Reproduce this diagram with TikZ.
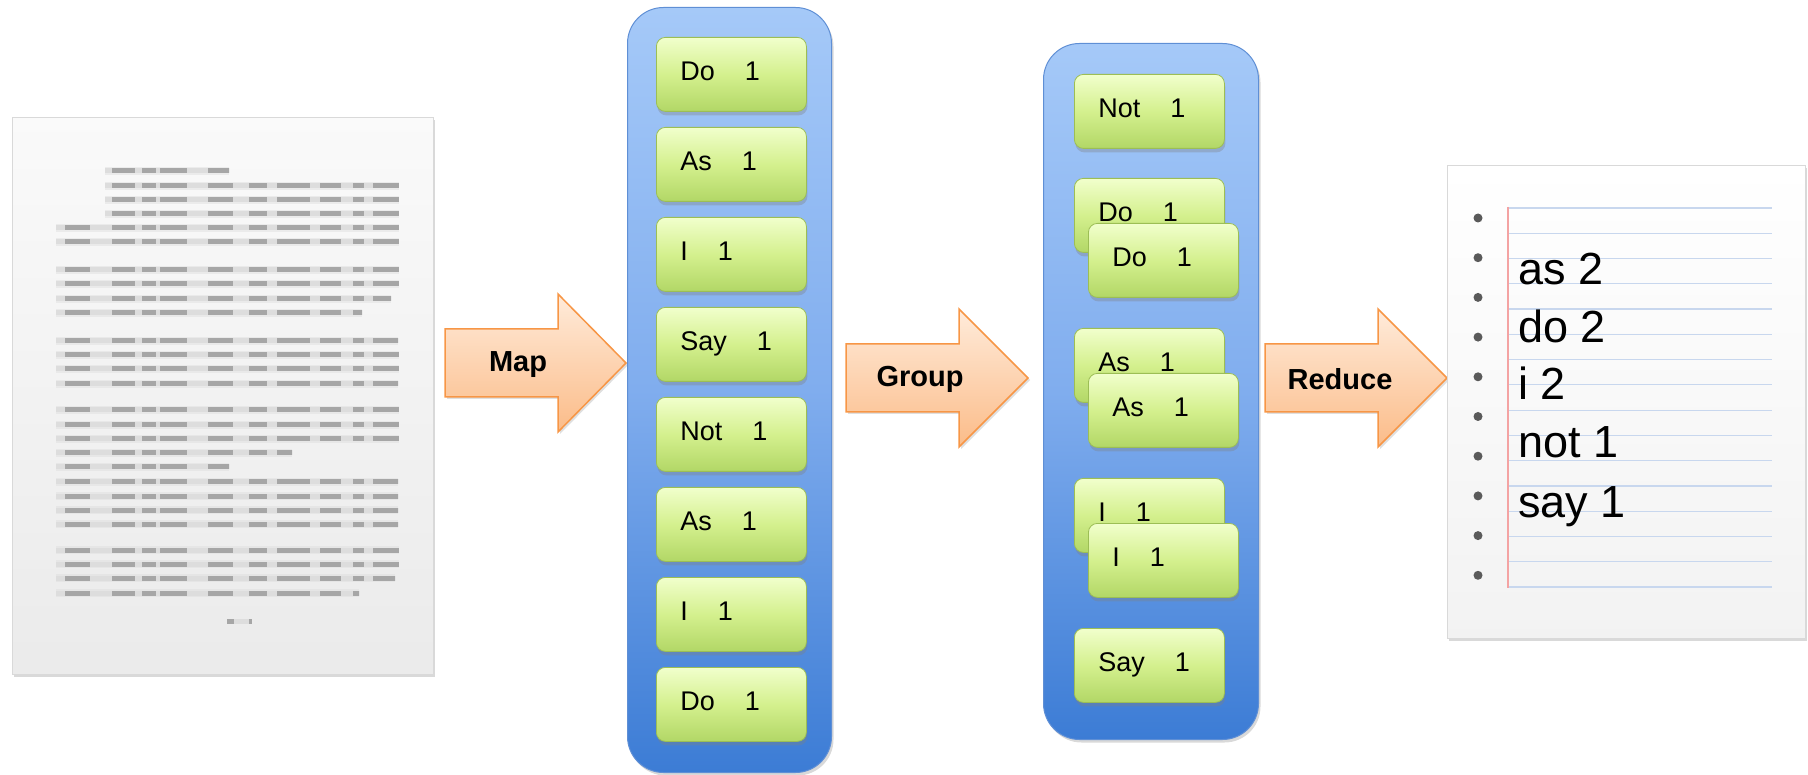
\documentclass[tikz,border=0pt]{standalone}
\usepackage{fontspec}
\setmainfont{Liberation Sans}
\usetikzlibrary{shadows}

\definecolor{boxtop}{HTML}{F1FFCC}
\definecolor{boxmid}{HTML}{D4F08E}
\definecolor{boxbot}{HTML}{B2D766}
\definecolor{boxedge}{HTML}{9CBE55}
\definecolor{coltop}{HTML}{A5C9F8}
\definecolor{colmid}{HTML}{80ADEE}
\definecolor{colbot}{HTML}{3C7CD5}
\definecolor{coledge}{HTML}{5F8FD5}
\definecolor{arrtop}{HTML}{FFEBDA}
\definecolor{arrbot}{HTML}{FBBC89}
\definecolor{arredge}{HTML}{F79646}
\definecolor{ruleblue}{HTML}{C8D7EE}
\definecolor{marginred}{HTML}{F4A3A3}
\definecolor{inkdark}{HTML}{A6A6A6}
\definecolor{inklight}{HTML}{DDDDDD}
\definecolor{holegray}{HTML}{5A5A5A}

% one soft line of text on the page: y, first x, last x
\newcommand\docline[3]{%
  \draw[inklight, line width=8pt, opacity=.45] (#2,#1) -- (#3,#1);
  \draw[inklight, line width=5pt] (#2,#1) -- (#3,#1);
  \begin{scope}
    \clip (#2,#1-4) rectangle (#3,#1+4);
    \foreach \a/\b in {65/90,112/135,142/156,160/187,208/233,249/267,277/310,320/341,353/364,373/399}
      \draw[inkdark, line width=5pt] (\a,#1) -- (\b,#1);
  \end{scope}}

\tikzset{
  kvbox/.style={rounded corners=9pt, draw=boxedge, line width=0.8pt,
    top color=boxtop, bottom color=boxbot, middle color=boxmid,
    minimum width=150pt, minimum height=74pt, text width=102pt,
    text height=20pt, text depth=8pt,
    inner xsep=0pt, align=left, anchor=north west,
    font=\fontsize{27}{32}\selectfont,
    drop shadow={shadow xshift=1pt, shadow yshift=-4pt, opacity=.35}},
  column/.style={rounded corners=36pt, draw=coledge, line width=1pt,
    top color=coltop, bottom color=colbot, middle color=colmid,
    anchor=north west, inner sep=0pt,
    drop shadow={shadow xshift=2pt, shadow yshift=-3pt, opacity=.3}},
  blockarrow/.style={draw=arredge, line width=1.5pt, line join=miter,
    top color=arrtop, bottom color=arrbot,
    drop shadow={shadow xshift=2pt, shadow yshift=-2pt, opacity=.25}},
  arrowlabel/.style={font=\fontsize{29}{34}\selectfont\bfseries},
  sheet/.style={anchor=north west, inner sep=0pt, draw=gray!30, line width=0.6pt,
    drop shadow={shadow xshift=2pt, shadow yshift=-3pt, opacity=.3}},
  notetext/.style={anchor=base west, inner sep=0pt, font=\fontsize{45}{54}\selectfont},
}

\begin{document}
\begin{tikzpicture}[x=1pt, y=-1pt]
\useasboundingbox (0,0) rectangle (1808,775);

% ---- input document ----
\node[sheet, top color=gray!4, bottom color=gray!16,
      minimum width=421pt, minimum height=557pt] (doc) at (12,117) {};
\docline{171}{105}{229}
\docline{186}{105}{399}
\docline{200}{105}{399}
\docline{214}{105}{399}
\docline{228}{56}{399}
\docline{242}{56}{399}
\docline{270}{56}{399}
\docline{284}{56}{399}
\docline{299}{56}{391}
\docline{313}{56}{362}
\docline{341}{56}{398}
\docline{355}{56}{399}
\docline{369}{56}{399}
\docline{384}{56}{398}
\docline{410}{56}{399}
\docline{425}{56}{399}
\docline{439}{56}{399}
\docline{453}{56}{292}
\docline{467}{56}{229}
\docline{482}{56}{398}
\docline{496}{56}{398}
\docline{510}{56}{398}
\docline{524}{56}{398}
\docline{550}{56}{399}
\docline{564}{56}{399}
\docline{578}{56}{395}
\docline{593}{56}{359}
\draw[inklight, line width=5pt] (227,621) -- (252,621);
\draw[inkdark, line width=5pt] (227,621) -- (234,621) (249,621) -- (252,621);

% ---- Map arrow ----
\path[blockarrow] (445,329) -- (558,329) -- (558,294) -- (626,363)
  -- (558,432) -- (558,397) -- (445,397) -- cycle;
\node[arrowlabel] (map) at (518,365) {Map};

% ---- mapped pairs ----
\node[column, minimum width=204pt, minimum height=765pt] (mapcol) at (627,7) {};
\node[kvbox] (m1) at (656,37)  {Do\hspace{30pt}1};
\node[kvbox] (m2) at (656,127) {As\hspace{30pt}1};
\node[kvbox] (m3) at (656,217) {I\hspace{30pt}1};
\node[kvbox] (m4) at (656,307) {Say\hspace{30pt}1};
\node[kvbox] (m5) at (656,397) {Not\hspace{30pt}1};
\node[kvbox] (m6) at (656,487) {As\hspace{30pt}1};
\node[kvbox] (m7) at (656,577) {I\hspace{30pt}1};
\node[kvbox] (m8) at (656,667) {Do\hspace{30pt}1};

% ---- Group arrow ----
\path[blockarrow] (846,344) -- (959,344) -- (959,309) -- (1028,378)
  -- (959,447) -- (959,412) -- (846,412) -- cycle;
\node[arrowlabel] (group) at (920,379) {Group};

% ---- grouped pairs ----
\node[column, minimum width=215pt, minimum height=696pt] (groupcol) at (1043,43) {};
\node[kvbox] (g1)  at (1074,74)  {Not\hspace{30pt}1};
\node[kvbox] (g2a) at (1074,178) {Do\hspace{30pt}1};
\node[kvbox] (g2b) at (1088,223) {Do\hspace{30pt}1};
\node[kvbox] (g3a) at (1074,328) {As\hspace{30pt}1};
\node[kvbox] (g3b) at (1088,373) {As\hspace{30pt}1};
\node[kvbox] (g4a) at (1074,478) {I\hspace{30pt}1};
\node[kvbox] (g4b) at (1088,523) {I\hspace{30pt}1};
\node[kvbox] (g5)  at (1074,628) {Say\hspace{30pt}1};

% ---- Reduce arrow ----
\path[blockarrow] (1265,344) -- (1378,344) -- (1378,309) -- (1447,378)
  -- (1378,447) -- (1378,412) -- (1265,412) -- cycle;
\node[arrowlabel] (reduce) at (1340,379) {Reduce};

% ---- result sheet ----
\node[sheet, top color=white, bottom color=gray!10,
      minimum width=358pt, minimum height=473pt] (notes) at (1447,165) {};
\foreach \k in {0,...,15}
  \draw[ruleblue, line width=1.2pt] (1508,208+25.27*\k) -- (1772,208+25.27*\k);
\draw[marginred, line width=1.5pt] (1508,207) -- (1508,588);
\foreach \k in {0,...,9}
  \fill[holegray] (1478,218+39.7*\k) circle (4.5);
\node[notetext] (r1) at (1518,285) {as 2};
\node[notetext] (r2) at (1518,343) {do 2};
\node[notetext] (r3) at (1518,400) {i 2};
\node[notetext] (r4) at (1518,458) {not 1};
\node[notetext] (r5) at (1518,517) {say 1};
\end{tikzpicture}
\end{document}
